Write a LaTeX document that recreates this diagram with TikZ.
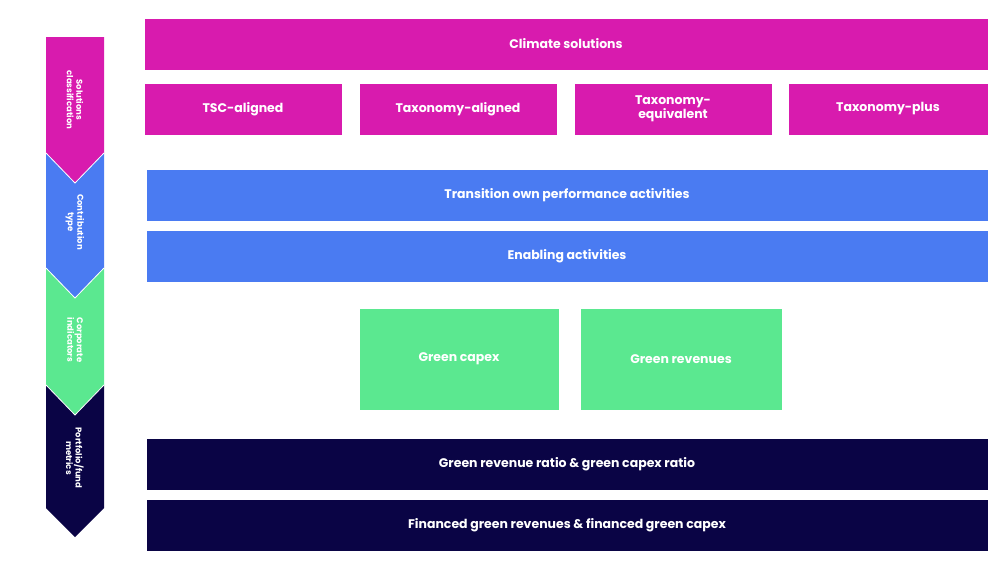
\documentclass[tikz,border=0pt]{standalone}
\usepackage{fontspec}
\setmainfont{Poppins}[BoldFont={* Bold}]
\definecolor{mag}{HTML}{D81BAE}
\definecolor{blu}{HTML}{4A7BF2}
\definecolor{grn}{HTML}{5BE890}
\definecolor{nav}{HTML}{0A0445}
\begin{document}
\begin{tikzpicture}[x=1pt,y=-1pt,
  bx/.style={font=\bfseries\fontsize{12.5}{14}\selectfont,text=white,align=center},
  lab/.style={text=white,font=\bfseries\fontsize{8.5}{9.5}\selectfont,align=center,rotate=-90}]
\useasboundingbox (0,0) rectangle (990,571);
\def\mybox#1#2#3#4#5#6#7{\filldraw[fill=#6,draw=white] (#2,#3) rectangle (#4,#5); \node[bx] (#1) at ({(#2+#4)/2},{(#3+#5)/2}) {#7};}
% chevrons
\fill[mag] (46,37) -- (104,37) -- (104,153) -- (75,183) -- (46,153) -- cycle;
\fill[blu] (46,153) -- (75,183) -- (104,153) -- (104,268) -- (75,298) -- (46,268) -- cycle;
\fill[grn] (46,268) -- (75,298) -- (104,268) -- (104,385) -- (75,415) -- (46,385) -- cycle;
\fill[nav] (46,385) -- (75,415) -- (104,385) -- (104,508) -- (75,537) -- (46,508) -- cycle;
\draw[white,line width=0.8pt] (46,153) -- (75,183) -- (104,153);
\draw[white,line width=0.8pt] (46,268) -- (75,298) -- (104,268);
\draw[white,line width=0.8pt] (46,385) -- (75,415) -- (104,385);
\node[lab] (l1) at (75,100) {Solutions\\classification};
\node[lab] (l2) at (75,222) {Contribution\\type};
\node[lab] (l3) at (75,340) {Corporate\\indicators};
\node[lab] (l4) at (75,458) {Portfolio/fund\\metrics};
% boxes
\mybox{cs}{144}{18}{988}{70}{mag}{Climate solutions}
\mybox{a}{144}{83}{342}{135}{mag}{TSC-aligned}
\mybox{b}{359}{83}{557}{135}{mag}{Taxonomy-aligned}
\mybox{c}{574}{83}{772}{135}{mag}{Taxonomy-\\equivalent}
\mybox{d}{788}{83}{988}{135}{mag}{Taxonomy-plus}
\mybox{t}{146}{169}{988}{221}{blu}{Transition own performance activities}
\mybox{e}{146}{230}{988}{282}{blu}{Enabling activities}
\mybox{gc}{359}{308}{559}{410}{grn}{Green capex}
\mybox{gr}{580}{308}{782}{410}{grn}{Green revenues}
\mybox{r}{146}{438}{988}{490}{nav}{Green revenue ratio \& green capex ratio}
\mybox{f}{146}{499}{988}{551}{nav}{Financed green revenues \& financed green capex}
\end{tikzpicture}
\end{document}
